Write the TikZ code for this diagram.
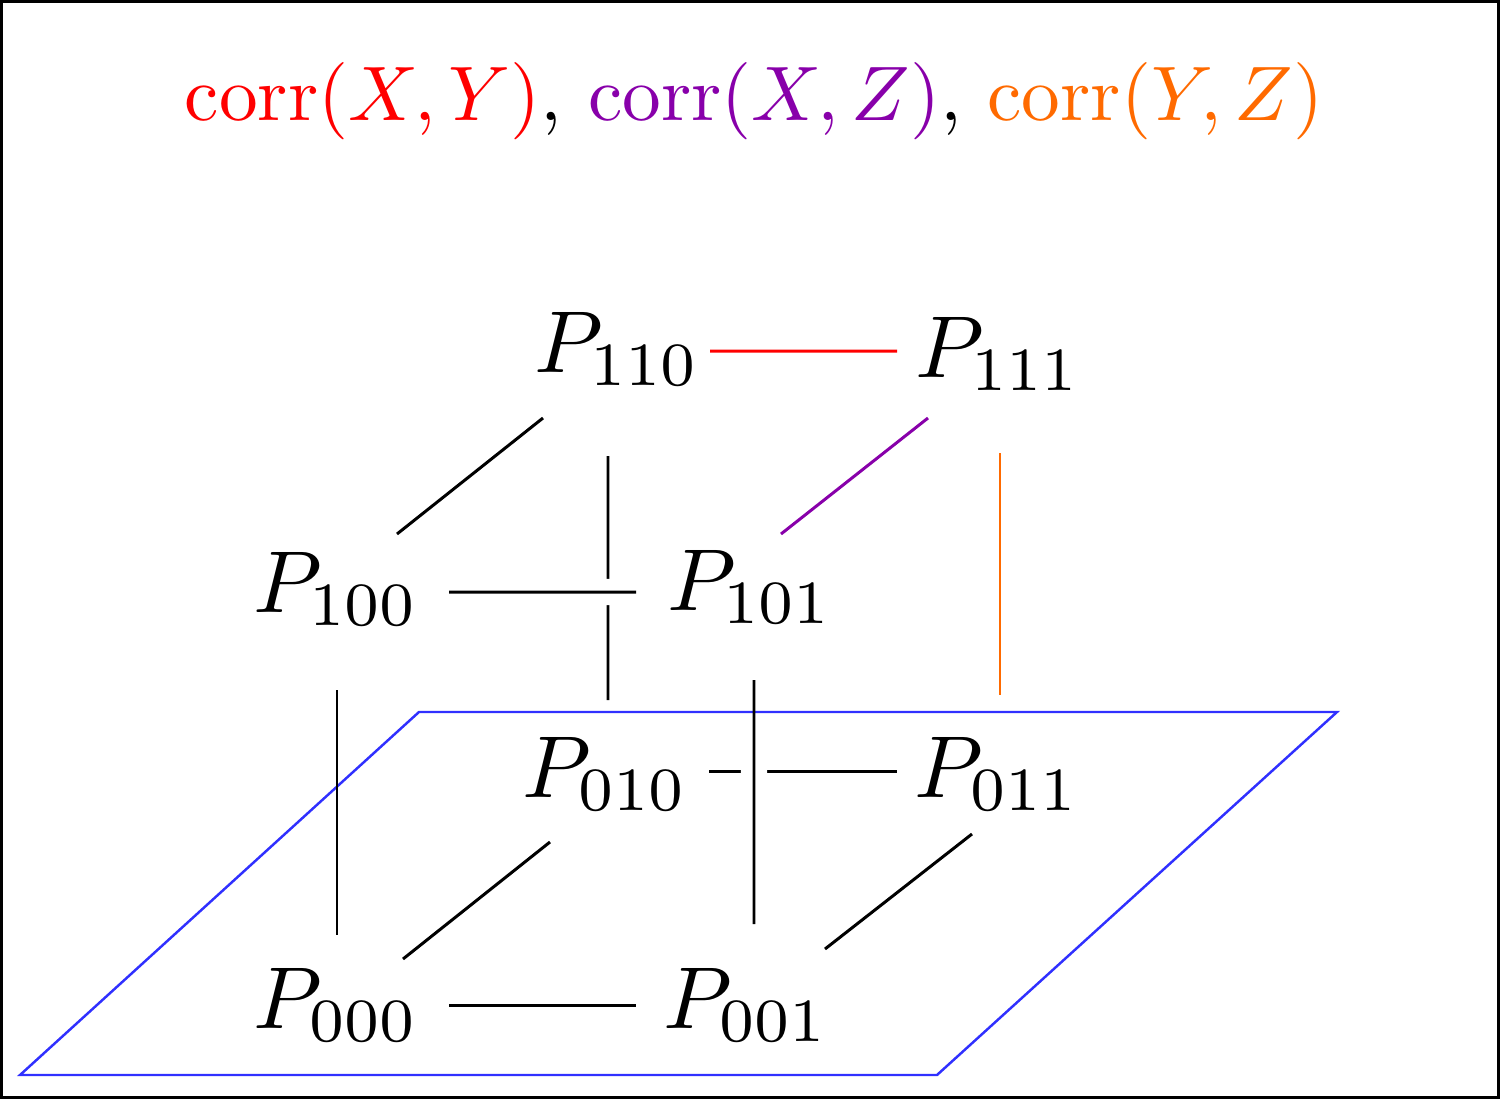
\documentclass[tikz,border=0pt]{standalone}
\usepackage{xcolor}
\usetikzlibrary{calc}
\definecolor{CorrXY}{HTML}{FF0000}
\definecolor{CorrXZ}{HTML}{8800AA}
\definecolor{CorrYZ}{HTML}{FF6A00}
\definecolor{Plane}{HTML}{3030FF}

\begin{document}
\begin{tikzpicture}[
  pt/.style={anchor=base,inner sep=0pt,scale=2.5,transform shape},
  edge/.style={line width=0.85pt},
  over/.style={preaction={draw=white,line width=7.5pt}},
  overmid/.style={preaction={draw=white,line width=7.5pt,shorten <=0.7cm,shorten >=1.32cm}}]
  \useasboundingbox (0,0) rectangle (15,-10.99);
  \draw[line width=0.9pt] (0.016,-0.016) rectangle (14.984,-10.974);

  \node[anchor=base,scale=2.2,transform shape] (title) at (7.54,-1.20)
    {\textcolor{CorrXY}{$\mathrm{corr}(X,Y)$}, \textcolor{CorrXZ}{$\mathrm{corr}(X,Z)$}, \textcolor{CorrYZ}{$\mathrm{corr}(Y,Z)$}};

  % the plane at the bottom
  \draw[Plane,line width=0.7pt] (0.20,-10.75) -- (9.37,-10.75) -- (13.37,-7.12) -- (4.19,-7.12) -- cycle;

  % corners of the cube
  \foreach \name/\pos/\lab in {p110/{6.17,-3.72}/110,p111/{9.98,-3.77}/111,
    p100/{3.36,-6.12}/100,p101/{7.50,-6.10}/101,p010/{6.05,-7.97}/010,
    p011/{9.97,-7.97}/011,p000/{3.36,-10.28}/000,p001/{7.46,-10.28}/001}{
    \node[pt] (\name) at (\pos) {$P_{\lab}$};
  }

  % edges
  \foreach \a/\sa/\b/\sb/\opt in {
    p110/{0.93,0.21}/p111/{-1.01,0.26}/CorrXY,
    p110/{-0.74,-0.46}/p100/{0.61,0.78}/black,
    p111/{-0.70,-0.41}/p101/{0.31,0.76}/CorrXZ,
    p110/{-0.09,-0.84}/p010/{0.03,0.97}/black,
    p111/{0.02,-0.76}/p011/{0.03,1.02}/CorrYZ,
    p100/{1.13,0.20}/p101/{-1.14,0.18}/over,
    p100/{0.01,-0.78}/p000/{0.01,0.93}/black,
    p010/{1.04,0.26}/p011/{-1.00,0.26}/black,
    p101/{0.04,-0.70}/p001/{0.08,1.04}/overmid,
    p010/{-0.55,-0.45}/p000/{0.67,0.69}/black,
    p011/{-0.25,-0.37}/p001/{0.79,0.79}/black,
    p000/{1.13,0.23}/p001/{-1.10,0.23}/black}{
    \draw[edge,\opt] ([shift={(\sa)}]\a.base) -- ([shift={(\sb)}]\b.base);
  }
\end{tikzpicture}
\end{document}
